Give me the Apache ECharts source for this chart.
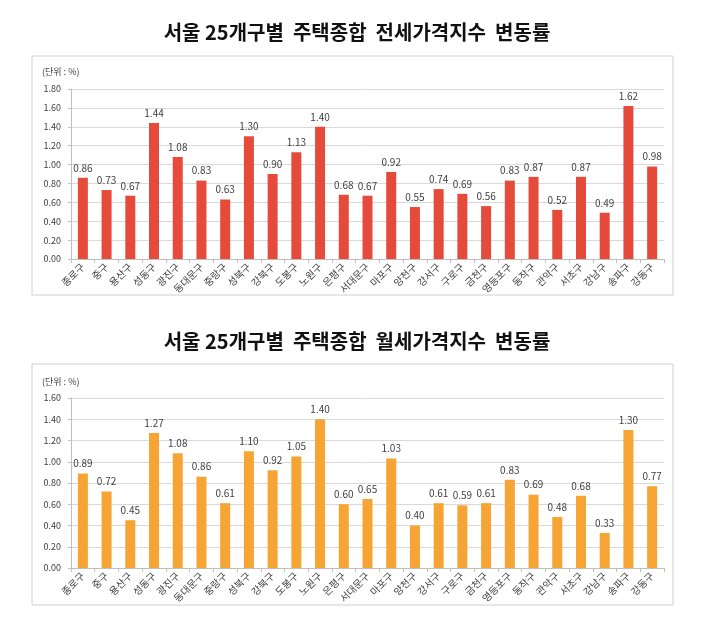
<!DOCTYPE html>
<html>
<head>
<meta charset="utf-8">
<script src="https://cdn.jsdelivr.net/npm/echarts@6/dist/echarts.min.js"></script>
<style>
  html, body { margin: 0; padding: 0; background: #fff; }
  #chart { width: 719px; height: 621px; }
</style>
</head>
<body>
<div id="chart"></div>
<script>
var districts = ['종로구', '중구', '용산구', '성동구', '광진구', '동대문구', '중랑구', '성북구', '강북구', '도봉구',
  '노원구', '은평구', '서대문구', '마포구', '양천구', '강서구', '구로구', '금천구', '영등포구', '동작구',
  '관악구', '서초구', '강남구', '송파구', '강동구'];
var jeonseRates = [0.86, 0.73, 0.67, 1.44, 1.08, 0.83, 0.63, 1.30, 0.90, 1.13,
  1.40, 0.68, 0.67, 0.92, 0.55, 0.74, 0.69, 0.56, 0.83, 0.87,
  0.52, 0.87, 0.49, 1.62, 0.98];
var wolseRates = [0.89, 0.72, 0.45, 1.27, 1.08, 0.86, 0.61, 1.10, 0.92, 1.05,
  1.40, 0.60, 0.65, 1.03, 0.40, 0.61, 0.59, 0.61, 0.83, 0.69,
  0.48, 0.68, 0.33, 1.30, 0.77];
var titles = ['서울 25개구별  주택종합  전세가격지수  변동률', '서울 25개구별  주택종합  월세가격지수  변동률'];
var unitText = '(단위 : %)';
var yMax = [1.8, 1.6];

var font = '"Noto Sans CJK KR", "Noto Sans", sans-serif';

function xAxisFor(i) {
  return {
    type: 'category',
    gridIndex: i,
    data: districts,
    axisLine: { lineStyle: { color: '#bfbfbf' } },
    axisTick: { show: true, length: 4, lineStyle: { color: '#bfbfbf' } },
    axisLabel: {
      interval: 0,
      rotate: 45,
      fontSize: 10,
      color: '#404040',
      fontFamily: font,
      margin: 6
    }
  };
}

function yAxisFor(i) {
  return {
    type: 'value',
    gridIndex: i,
    min: 0,
    max: yMax[i],
    interval: 0.2,
    axisLine: { show: true, lineStyle: { color: '#bfbfbf' } },
    axisTick: { show: true, length: 3, lineStyle: { color: '#bfbfbf' } },
    splitLine: { lineStyle: { color: '#d9d9d9' } },
    axisLabel: {
      fontSize: 9,
      color: '#404040',
      fontFamily: font,
      margin: 10,
      formatter: function (v) { return v.toFixed(2); }
    }
  };
}

function barSeries(i, values, color) {
  return {
    type: 'bar',
    xAxisIndex: i,
    yAxisIndex: i,
    data: values,
    barWidth: 10,
    itemStyle: { color: color },
    label: {
      show: true,
      position: 'top',
      distance: 5,
      fontSize: 10,
      color: '#404040',
      fontFamily: font,
      formatter: function (p) { return p.value.toFixed(2); }
    }
  };
}

var option = {
  animation: false,
  title: [
    { text: titles[0], left: 352, top: 17, textAlign: 'center',
      textStyle: { fontSize: 20, fontWeight: 'bold', color: '#111', fontFamily: font } },
    { text: titles[1], left: 352, top: 326, textAlign: 'center',
      textStyle: { fontSize: 20, fontWeight: 'bold', color: '#111', fontFamily: font } }
  ],
  graphic: [
    { type: 'rect', shape: { x: 32, y: 56, width: 641, height: 239 },
      style: { fill: 'none', stroke: '#d0d0d0', lineWidth: 1 }, z: -1 },
    { type: 'rect', shape: { x: 32, y: 364, width: 641, height: 241 },
      style: { fill: 'none', stroke: '#d0d0d0', lineWidth: 1 }, z: -1 },
    { type: 'text', left: 42, top: 67,
      style: { text: unitText, fontSize: 9, fill: '#404040', fontFamily: font } },
    { type: 'text', left: 42, top: 377,
      style: { text: unitText, fontSize: 9, fill: '#404040', fontFamily: font } }
  ],
  grid: [
    { left: 71, right: 55, top: 89, height: 170 },
    { left: 71, right: 55, top: 398, height: 170 }
  ],
  xAxis: [xAxisFor(0), xAxisFor(1)],
  yAxis: [yAxisFor(0), yAxisFor(1)],
  series: [
    barSeries(0, jeonseRates, '#e64a3b'),
    barSeries(1, wolseRates, '#f6a433')
  ]
};

var chart = echarts.init(document.getElementById('chart'));
chart.setOption(option);
</script>
</body>
</html>
